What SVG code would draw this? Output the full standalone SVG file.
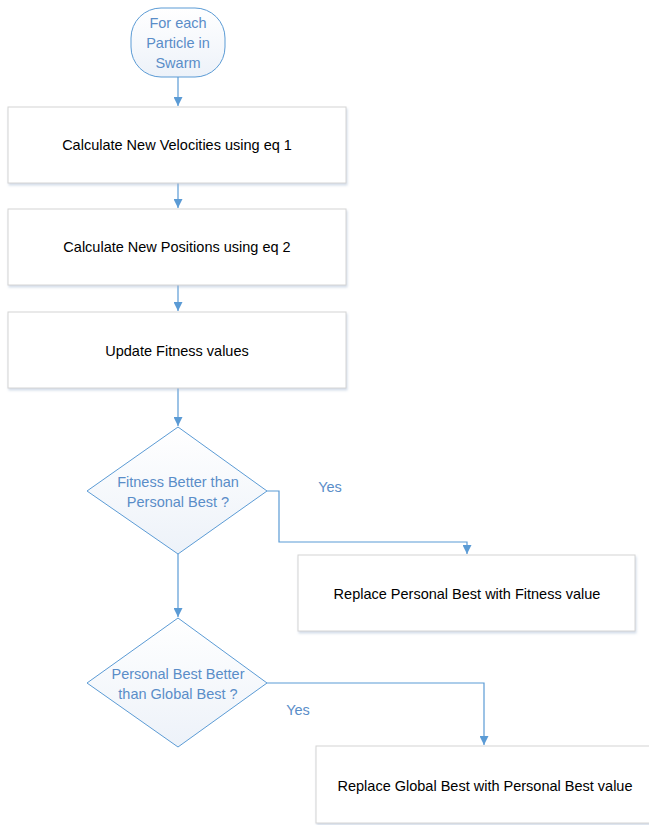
<svg xmlns="http://www.w3.org/2000/svg" width="649" height="825" viewBox="0 0 649 825">
  <defs>
    <marker id="arrow" viewBox="0 0 10 10" refX="10" refY="5" markerWidth="9" markerHeight="9" markerUnits="userSpaceOnUse" orient="auto">
      <path d="M0,0 L10,5 L0,10 z" fill="#5b9bd5"/>
    </marker>
    <linearGradient id="softBlue" x1="0" y1="0" x2="0" y2="1">
      <stop offset="0" stop-color="#ffffff"/>
      <stop offset="1" stop-color="#edf2f9"/>
    </linearGradient>
    <filter id="shadow" x="-5%" y="-5%" width="115%" height="120%">
      <feDropShadow dx="1" dy="2" stdDeviation="1.2" flood-color="#9fb4cf" flood-opacity="0.45"/>
    </filter>
  </defs>
  <style>
    .box { fill: #ffffff; stroke: #d4d4d4; stroke-width: 1; filter: url(#shadow); }
    .decision { fill: url(#softBlue); stroke: #5b9bd5; stroke-width: 1; }
    .terminal { fill: url(#softBlue); stroke: #5b9bd5; stroke-width: 1; }
    .label { font-family: "Liberation Sans", Arial, sans-serif; font-size: 14.5px; fill: #000000; text-anchor: middle; dominant-baseline: central; }
    .blue { fill: #5a8dc8; }
    .edge { fill: none; stroke: #5b9bd5; stroke-width: 1.2; marker-end: url(#arrow); }
  </style>

  <rect width="649" height="825" fill="#ffffff"/>

  <g id="connectors">
    <path class="edge" d="M178,77 L178,106"/>
    <path class="edge" d="M178,183 L178,208"/>
    <path class="edge" d="M178,285 L178,311"/>
    <path class="edge" d="M178,388 L178,426"/>
    <path class="edge" d="M267,491 L279,491 L279,542 L467,542 L467,554"/>
    <path class="edge" d="M178,554 L178,617"/>
    <path class="edge" d="M267,683 L484,683 L484,745"/>
    <text class="label blue" x="330" y="487">Yes</text>
    <text class="label blue" x="298" y="710">Yes</text>
  </g>

  <g id="start">
    <rect class="terminal" x="131" y="8" width="94" height="69" rx="30" ry="30"/>
    <text class="label blue" x="178" y="23">For each</text>
    <text class="label blue" x="178" y="43">Particle in</text>
    <text class="label blue" x="178" y="63">Swarm</text>
  </g>

  <g id="velocities">
    <rect class="box" x="8" y="107" width="338" height="76"/>
    <text class="label" x="177" y="145">Calculate New Velocities using eq 1</text>
  </g>

  <g id="positions">
    <rect class="box" x="8" y="209" width="338" height="76"/>
    <text class="label" x="177" y="247">Calculate New Positions using eq 2</text>
  </g>

  <g id="fitness">
    <rect class="box" x="8" y="312" width="338" height="76"/>
    <text class="label" x="177" y="351">Update Fitness values</text>
  </g>

  <g id="check-personal">
    <polygon class="decision" points="178,427 267,491 178,554 87,491"/>
    <text class="label blue" x="178" y="482">Fitness Better than</text>
    <text class="label blue" x="178" y="502">Personal Best ?</text>
  </g>

  <g id="replace-personal">
    <rect class="box" x="298" y="555" width="337" height="76"/>
    <text class="label" x="467" y="594">Replace Personal Best with Fitness value</text>
  </g>

  <g id="check-global">
    <polygon class="decision" points="178,618 267,683 178,747 87,683"/>
    <text class="label blue" x="178" y="674">Personal Best Better</text>
    <text class="label blue" x="178" y="694">than Global Best ?</text>
  </g>

  <g id="replace-global">
    <rect class="box" x="316" y="746" width="338" height="77"/>
    <text class="label" x="485" y="786">Replace Global Best with Personal Best value</text>
  </g>
</svg>
